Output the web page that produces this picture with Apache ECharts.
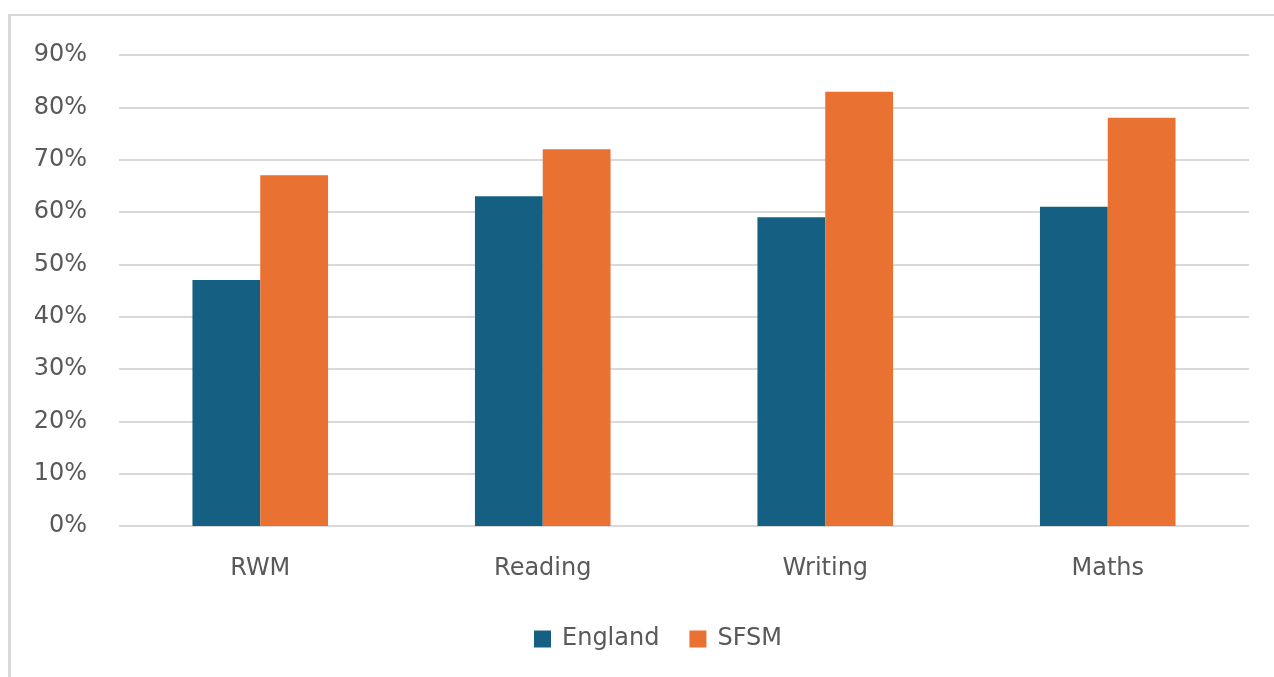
<!DOCTYPE html>
<html>
<head>
<meta charset="utf-8">
<script src="https://cdn.jsdelivr.net/npm/echarts@6/dist/echarts.min.js"></script>
<style>
html,body{margin:0;padding:0;background:#fff;}
#frame{position:absolute;left:8px;top:14px;width:1280px;height:700px;border-left:3px solid #d9d9d9;border-top:2px solid #d9d9d9;box-sizing:border-box;}
#chart{position:absolute;left:0;top:0;width:1274px;height:677px;}
</style>
</head>
<body>
<div id="frame"></div>
<div id="chart"></div>
<script>
const categories = ['RWM', 'Reading', 'Writing', 'Maths'];
const england = [47, 63, 59, 61];
const sfsm = [67, 72, 83, 78];
const yTicks = [0, 10, 20, 30, 40, 50, 60, 70, 80, 90];

const font = '"DejaVu Sans", "Noto Sans", sans-serif';
const chart = echarts.init(document.getElementById('chart'), null, {renderer: 'canvas'});
chart.setOption({
  animation: false,
  textStyle: {fontFamily: font},
  grid: {left: 119, right: 25, top: 55, bottom: 151, containLabel: false},
  legend: {
    data: ['England', 'SFSM'],
    bottom: 21,
    left: 529,
    itemWidth: 17,
    itemHeight: 17,
    itemGap: 30,
    icon: 'rect',
    textStyle: {color: '#595959', fontSize: 24, fontFamily: font, padding: [0, 0, 0, 6]}
  },
  xAxis: {
    type: 'category',
    data: categories,
    axisLine: {show: false},
    axisTick: {show: false},
    axisLabel: {color: '#595959', fontSize: 24, margin: 31, fontFamily: font}
  },
  yAxis: {
    type: 'value',
    min: yTicks[0],
    max: yTicks[yTicks.length - 1],
    interval: 10,
    axisLine: {show: false},
    axisTick: {show: false},
    axisLabel: {color: '#595959', fontSize: 24, margin: 32, formatter: '{value}%', fontFamily: font},
    splitLine: {lineStyle: {color: '#d9d9d9', width: 2}}
  },
  series: [
    {
      name: 'England', type: 'bar', data: england,
      barGap: '0%', barCategoryGap: '52%',
      itemStyle: {color: '#156082'}
    },
    {
      name: 'SFSM', type: 'bar', data: sfsm,
      barGap: '0%', barCategoryGap: '52%',
      itemStyle: {color: '#E97132'}
    }
  ]
});
</script>
</body>
</html>
